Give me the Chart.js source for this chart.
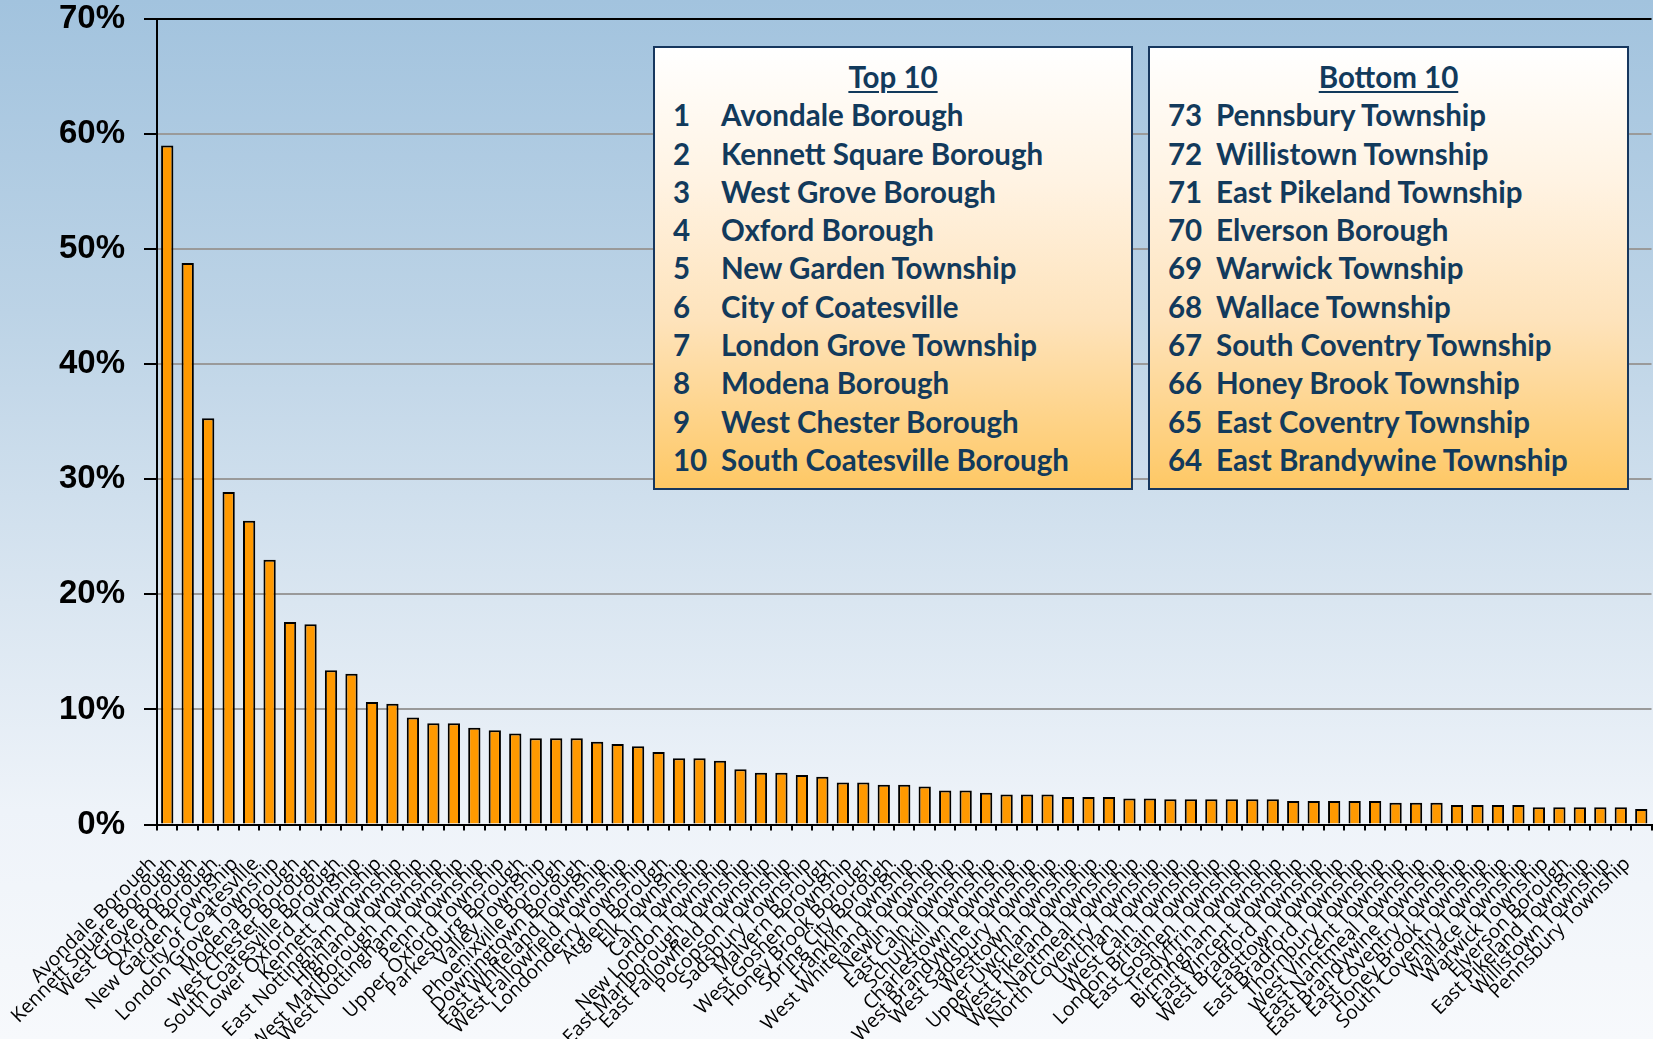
<!DOCTYPE html>
<html>
<head>
<meta charset="utf-8">
<title>Chester County municipalities</title>
<script src="https://cdn.jsdelivr.net/npm/chart.js@4.4.0/dist/chart.umd.min.js"></script>
<style>
    html, body { margin: 0; padding: 0; }
    body {
        width: 1653px;
        height: 1039px;
        overflow: hidden;
        position: relative;
        background: linear-gradient(to bottom, #a2c3de 0%, #bcd3e6 30%, #dae6f1 58%, #eef3f9 78%, #f7f9fc 100%);
    }
    #shareChart { position: absolute; left: 0; top: 0; }
    .rank-box {
        position: absolute;
        top: 46px;
        height: 444px;
        box-sizing: border-box;
        border: 2px solid #17375e;
        padding-top: 10px;
        background: linear-gradient(to bottom, #ffffff 0%, #fff3e3 30%, #fee3bb 62%, #fec865 100%);
        font-family: Lato, sans-serif;
        font-weight: bold;
        font-size: 29.5px;
        color: #123a5c;
    }
    .rank-title {
        text-align: center;
        line-height: 38.3px;
        height: 38.3px;
        text-decoration: underline;
        text-decoration-thickness: 2px;
        text-underline-offset: 3px;
    }
    .rank-row { position: relative; height: 38.3px; line-height: 38.3px; white-space: nowrap; }
    .rank-row .num { position: absolute; left: 18px; }
    .rank-row .name { position: absolute; left: 66px; }
</style>
</head>
<body>
<canvas id="shareChart" width="1653" height="1039"></canvas>
<div class="rank-box" id="topBox" style="left:653px; width:480px;"></div>
<div class="rank-box" id="bottomBox" style="left:1148px; width:481px;"></div>

<script>
const municipalities = [
    'Avondale Borough', 'Kennett Square Borough', 'West Grove Borough', 'Oxford Borough',
    'New Garden Township', 'City of Coatesville', 'London Grove Township', 'Modena Borough',
    'West Chester Borough', 'South Coatesville Borough', 'Lower Oxford Township', 'Kennett Township',
    'East Nottingham Township', 'Highland Township', 'West Marlborough Township', 'West Nottingham Township',
    'Penn Township', 'Upper Oxford Township', 'Parkesburg Borough', 'Valley Township',
    'Phoenixville Borough', 'Downingtown Borough', 'East Whiteland Township', 'West Fallowfield Township',
    'Londonderry Township', 'Atglen Borough', 'Elk Township', 'Caln Township',
    'New London Township', 'East Marlborough Township', 'East Fallowfield Township', 'Pocopson Township',
    'Sadsbury Township', 'Malvern Borough', 'West Goshen Township', 'Honey Brook Borough',
    'Spring City Borough', 'Franklin Township', 'West Whiteland Township', 'Newlin Township',
    'East Caln Township', 'Schuylkill Township', 'Charlestown Township', 'West Brandywine Township',
    'West Sadsbury Township', 'Westtown Township', 'Upper Uwchlan Township', 'West Pikeland Township',
    'West Nantmeal Township', 'North Coventry Township', 'Uwchlan Township', 'West Caln Township',
    'London Britain Township', 'East Goshen Township', 'Tredyffrin Township', 'Birmingham Township',
    'East Vincent Township', 'West Bradford Township', 'Easttown Township', 'East Bradford Township',
    'Thornbury Township', 'West Vincent Township', 'East Nantmeal Township', 'East Brandywine Township',
    'East Coventry Township', 'Honey Brook Township', 'South Coventry Township', 'Wallace Township',
    'Warwick Township', 'Elverson Borough', 'East Pikeland Township', 'Willistown Township',
    'Pennsbury Township'
];

// share of population, percent
const shareValues = [
    59.0, 48.8, 35.3, 28.9, 26.4, 23.0, 17.6, 17.4, 13.4, 13.1,
    10.65, 10.5, 9.3, 8.8, 8.8, 8.4, 8.2, 7.9, 7.5, 7.5,
    7.5, 7.2, 7.0, 6.8, 6.3, 5.75, 5.75, 5.55, 4.8, 4.5,
    4.5, 4.3, 4.15, 3.65, 3.65, 3.45, 3.45, 3.3, 2.95, 2.95,
    2.75, 2.6, 2.6, 2.6, 2.4, 2.4, 2.4, 2.25, 2.25, 2.2,
    2.2, 2.2, 2.2, 2.2, 2.2, 2.05, 2.05, 2.05, 2.05, 2.05,
    1.9, 1.9, 1.9, 1.7, 1.7, 1.7, 1.7, 1.5, 1.5, 1.5,
    1.5, 1.5, 1.35
];

const percentTicks = [0, 10, 20, 30, 40, 50, 60, 70];
const rankListSize = 10;

function fillRankBox(boxId, title, rows) {
    const box = document.getElementById(boxId);
    let html = `<div class="rank-title">${title}</div>`;
    rows.forEach(r => {
        html += `<div class="rank-row"><span class="num">${r.rank}</span><span class="name">${r.name}</span></div>`;
    });
    box.innerHTML = html;
}

const topRows = municipalities.slice(0, rankListSize)
    .map((name, i) => ({ rank: i + 1, name }));
const bottomRows = municipalities.slice(-rankListSize).reverse()
    .map((name, i) => ({ rank: municipalities.length - i, name }));

fillRankBox('topBox', 'Top 10', topRows);
fillRankBox('bottomBox', 'Bottom 10', bottomRows);

const ctx = document.getElementById('shareChart').getContext('2d');

new Chart(ctx, {
    type: 'bar',
    data: {
        labels: municipalities,
        datasets: [{
            data: shareValues,
            backgroundColor: '#ff9900',
            borderColor: '#000000',
            borderWidth: 2,
            categoryPercentage: 1.0,
            barPercentage: 0.6
        }]
    },
    options: {
        responsive: false,
        animation: false,
        devicePixelRatio: 1,
        layout: { padding: { top: 19, right: 1.5, left: 0, bottom: 0 } },
        plugins: {
            legend: { display: false },
            tooltip: { enabled: false }
        },
        scales: {
            x: {
                offset: true,
                grid: {
                    offset: true,
                    drawOnChartArea: false,
                    drawTicks: true,
                    tickLength: 6,
                    tickColor: '#000000',
                    lineWidth: 2
                },
                border: { display: true, color: '#000000', width: 2 },
                ticks: {
                    autoSkip: false,
                    minRotation: 45,
                    maxRotation: 45,
                    padding: 22,
                    labelOffset: -14,
                    color: '#000000',
                    font: { family: 'Open Sans', size: 19.5 }
                },
                afterFit: s => {
                    s.height = 214.5;
                    s.paddingLeft = 0;
                    s.paddingRight = 0;
                }
            },
            y: {
                min: percentTicks[0],
                max: percentTicks[percentTicks.length - 1],
                afterBuildTicks: axis => {
                    axis.ticks = percentTicks.map(v => ({ value: v }));
                },
                grid: {
                    color: c => (c.tick && (c.tick.value === 70 || c.tick.value === 0)) ? '#000000' : '#9a9a9a',
                    lineWidth: 2,
                    tickLength: 13,
                    tickColor: '#000000'
                },
                border: { display: true, color: '#000000', width: 2 },
                ticks: {
                    padding: 19,
                    color: '#000000',
                    font: { family: 'Liberation Sans', size: 33, weight: 'bold' },
                    callback: v => v + '%'
                },
                afterFit: s => {
                    s.width = 157;
                    s.paddingTop = 0;
                    s.paddingBottom = 0;
                }
            }
        }
    }
});
</script>
</body>
</html>
